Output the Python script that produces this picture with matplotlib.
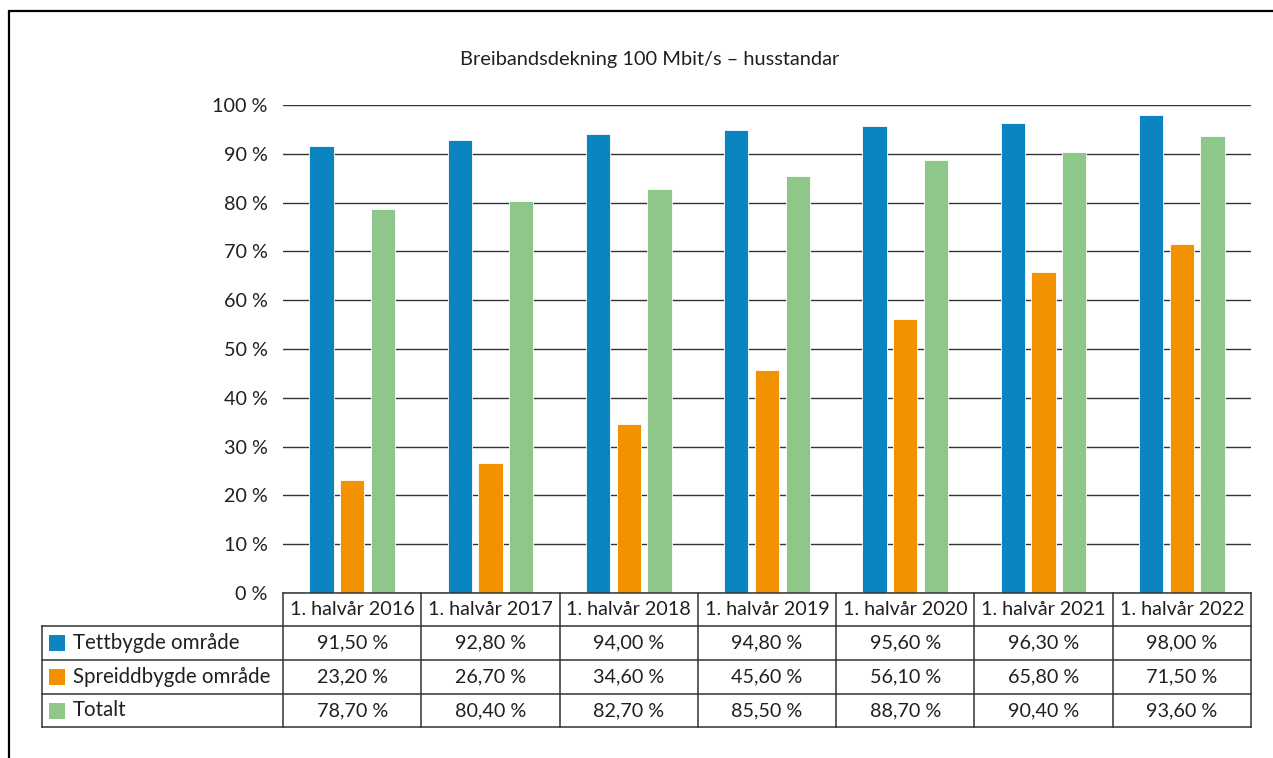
import numpy as np
import matplotlib
matplotlib.use('Agg')
import matplotlib.pyplot as plt
from matplotlib.lines import Line2D
from matplotlib.patches import Rectangle

# ---------------------------------------------------------------------------
# Data
# ---------------------------------------------------------------------------
periods = ['1. halvår 2016', '1. halvår 2017', '1. halvår 2018', '1. halvår 2019',
           '1. halvår 2020', '1. halvår 2021', '1. halvår 2022']
series = ['Tettbygde område', 'Spreiddbygde område', 'Totalt']
tettbygd = [91.5, 92.8, 94.0, 94.8, 95.6, 96.3, 98.0]
spreiddbygd = [23.2, 26.7, 34.6, 45.6, 56.1, 65.8, 71.5]
totalt = [78.7, 80.4, 82.7, 85.5, 88.7, 90.4, 93.6]
yticks = [0, 10, 20, 30, 40, 50, 60, 70, 80, 90, 100]

colors = ['#0A85C1', '#F39200', '#8FC689']
text_col = '#231F20'
line_col = '#333333'
fs = 14.2

plt.rcParams['font.family'] = ['Lato', 'DejaVu Sans']

# ---------------------------------------------------------------------------
# Layout (pixel based)
# ---------------------------------------------------------------------------
W, H = 1273, 758
fig = plt.figure(figsize=(W / 100, H / 100), dpi=100)
fig.patch.set_facecolor('white')


def fx(x):
    return x / W


def fy(y):
    return 1 - y / H


x_left, x_right = 283, 1251
y_top, y_zero = 105, 593
ax = fig.add_axes([fx(x_left), fy(y_zero), (x_right - x_left) / W, (y_zero - y_top) / H])

n = len(periods)
x = np.arange(n)
width = 0.175
offsets = [-0.222, 0.0, 0.222]
for vals, col, off in zip([tettbygd, spreiddbygd, totalt], colors, offsets):
    ax.bar(x + off, vals, width=width, color=col, edgecolor='white',
           linewidth=0.6, zorder=3)

ax.set_xlim(-0.5, n - 0.5)
ax.set_ylim(0, 100)
ax.set_yticks(yticks)
ax.set_yticklabels([f'{t} %' for t in yticks], fontsize=fs, color=text_col)
ax.set_xticks([])
ax.tick_params(axis='y', length=0, pad=11)
ax.grid(axis='y', color=line_col, linewidth=1.0, zorder=0)
ax.set_axisbelow(True)
for s in ax.spines.values():
    s.set_visible(False)

# Title
fig.text(fx(650), fy(60), 'Breibandsdekning 100 Mbit/s – husstandar',
         ha='center', va='center', fontsize=14.4, color=text_col)

# ---------------------------------------------------------------------------
# Data table
# ---------------------------------------------------------------------------
col_edges = np.linspace(x_left, x_right, n + 1)
row_edges = [593, 626, 660, 694, 727]
lab_left = 42
lw = 1.1


def hline(x0, x1, y):
    fig.add_artist(Line2D([fx(x0), fx(x1)], [fy(y), fy(y)], color=line_col,
                          linewidth=lw, transform=fig.transFigure))


def vline(x, y0, y1):
    fig.add_artist(Line2D([fx(x), fx(x)], [fy(y0), fy(y1)], color=line_col,
                          linewidth=lw, transform=fig.transFigure))


hline(x_left, x_right, row_edges[0])
for y in row_edges[1:]:
    hline(lab_left, x_right, y)
for xe in col_edges:
    vline(xe, row_edges[0], row_edges[-1])
vline(lab_left, row_edges[1], row_edges[-1])

# header
yc = (row_edges[0] + row_edges[1]) / 2
for i, p in enumerate(periods):
    xc = (col_edges[i] + col_edges[i + 1]) / 2
    fig.text(fx(xc), fy(yc), p, ha='center', va='center', fontsize=fs, color=text_col)

# rows
for r, (name, vals, col) in enumerate(zip(series, [tettbygd, spreiddbygd, totalt], colors)):
    yc = (row_edges[r + 1] + row_edges[r + 2]) / 2
    fig.add_artist(Rectangle((fx(49), fy(yc + 8)), 16 / W, 16 / H, facecolor=col,
                             edgecolor='none', transform=fig.transFigure))
    fig.text(fx(73), fy(yc), name, ha='left', va='center', fontsize=14.8, color=text_col)
    for i, v in enumerate(vals):
        xc = (col_edges[i] + col_edges[i + 1]) / 2
        fig.text(fx(xc), fy(yc), f'{v:.2f} %'.replace('.', ','), ha='center',
                 va='center', fontsize=fs, color=text_col)

# outer frame (cropped at right and bottom)
fig.add_artist(Rectangle((fx(9), fy(H + 20)), (W + 20) / W, (H + 20 - 11) / H,
                         facecolor='none', edgecolor='black', linewidth=1.6,
                         transform=fig.transFigure))

fig.savefig('out.png', dpi=100, facecolor='white')
